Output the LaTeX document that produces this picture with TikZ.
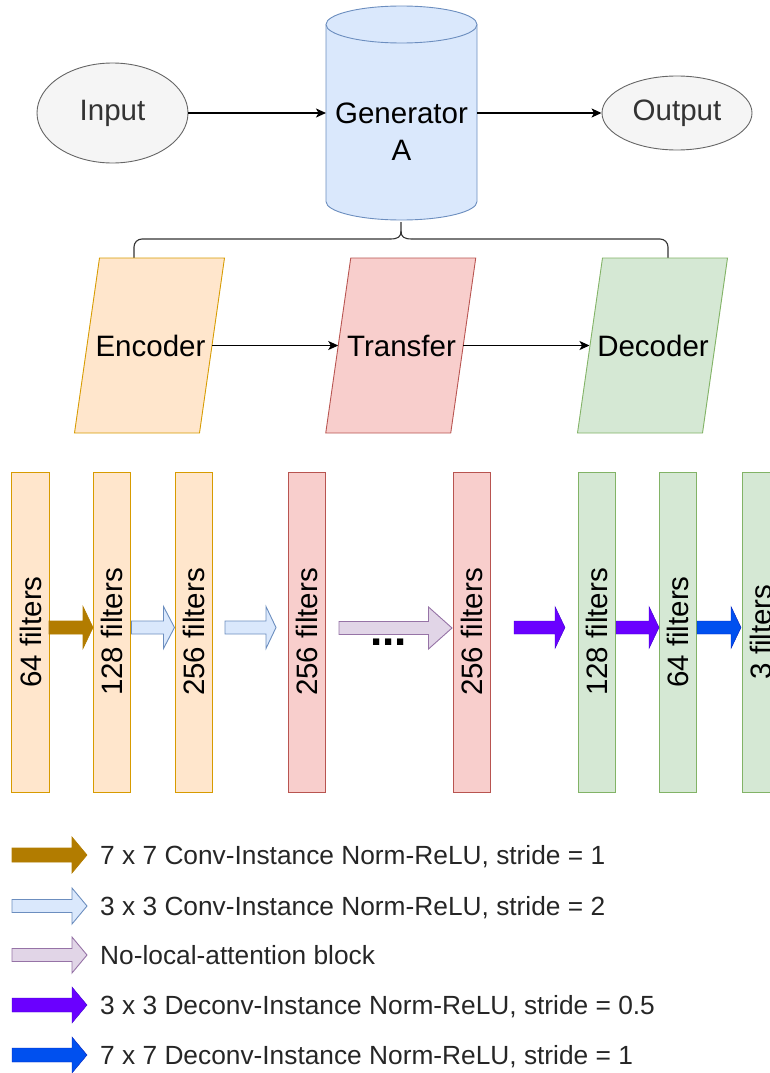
\documentclass[tikz,border=0pt]{standalone}
\usepackage{fontspec}
\setmainfont{Liberation Sans}
\usetikzlibrary{shapes.geometric,arrows.meta}
\definecolor{grayfill}{HTML}{F5F5F5}
\definecolor{graydraw}{HTML}{666666}
\definecolor{graytext}{HTML}{333333}
\definecolor{bluefill}{HTML}{DAE8FC}
\definecolor{bluedraw}{HTML}{6C8EBF}
\definecolor{orfill}{HTML}{FFE6CC}
\definecolor{ordraw}{HTML}{D79B00}
\definecolor{redfill}{HTML}{F8CECC}
\definecolor{reddraw}{HTML}{B85450}
\definecolor{grfill}{HTML}{D5E8D4}
\definecolor{grdraw}{HTML}{82B366}
\definecolor{lilfill}{HTML}{E1D5E7}
\definecolor{lildraw}{HTML}{9673A6}
\definecolor{brownA}{HTML}{B27C00}
\definecolor{violetA}{HTML}{6A00FF}
\definecolor{violetD}{HTML}{3700CC}
\definecolor{cobaltA}{HTML}{0050EF}
\definecolor{cobaltD}{HTML}{001DBC}
\newcommand{\blkarr}[7]{% style, x1, headstart, tip, y, halfshaft, halfhead
  \draw[#1] (#2,#5-#6) -- (#3,#5-#6) -- (#3,#5-#7) -- (#4,#5) -- (#3,#5+#7) -- (#3,#5+#6) -- (#2,#5+#6) -- cycle;}
\newcommand{\parashape}[2]{% style, center x  (y from 258 to 433)
  \draw[#1] (#2-75,433) -- (#2-50,258) -- (#2+75,258) -- (#2+50,433) -- cycle;}
\begin{document}
\begin{tikzpicture}[x=1pt,y=-1pt,
  bigtxt/.style={font=\fontsize{29.5}{36}\selectfont},
  conn/.style={line width=1.3pt, draw=black, -{Stealth[length=10pt,width=9pt,inset=2.5pt]}},
  ellnode/.style={ellipse, draw=graydraw, fill=grayfill, line width=0.9pt, inner sep=0pt, text=graytext, bigtxt},
  paratxt/.style={inner sep=0pt, bigtxt},
  bar/.style={rectangle, rotate=90, minimum width=320pt, minimum height=37.5pt, inner sep=0pt, line width=0.9pt,
    font=\fontsize{29.5}{36}\selectfont},
  legtxt/.style={anchor=base west, inner sep=0pt, font=\fontsize{26.3}{32}\selectfont, text=black!85},
  arrbrown/.style={fill=brownA, draw=brownA, line width=0.6pt},
  arrblue/.style={fill=bluefill, draw=bluedraw, line width=0.9pt},
  arrlil/.style={fill=lilfill, draw=lildraw, line width=0.9pt},
  arrviolet/.style={fill=violetA, draw=violetD, line width=0.4pt},
  arrcobalt/.style={fill=cobaltA, draw=cobaltD, line width=0.4pt},
  bracestyle/.style={line width=1.1pt, draw=black!80},
  encsty/.style={fill=orfill, draw=ordraw, line width=0.9pt},
  trasty/.style={fill=redfill, draw=reddraw, line width=0.9pt},
  decsty/.style={fill=grfill, draw=grdraw, line width=0.9pt}
]
\useasboundingbox (0,0) rectangle (770,1073);

% ---- top row ----
\node[ellnode, minimum width=151pt, minimum height=100pt] (inp) at (112.5,113) {Input};
\node[ellnode, minimum width=150pt, minimum height=74pt] (out) at (677,113) {Output};
% cylinder
\draw[fill=bluefill, draw=bluedraw, line width=0.9pt]
  (326,24.5) -- (326,201.5) arc[start angle=180, end angle=360, x radius=75.5pt, y radius=18.5pt] -- (477,24.5);
\draw[fill=bluefill, draw=bluedraw, line width=0.9pt] (401.5,24.5) ellipse[x radius=75.5pt, y radius=18.5pt];
\node[minimum width=151pt, minimum height=214pt, inner sep=0pt, align=center, bigtxt] (gen) at (401.5,132)
  {Generator\\[1pt]A};
\coordinate (genW) at (326,113);
\coordinate (genE) at (477,113);
\draw[conn] (inp) -- (genW);
\draw[conn] (genE) -- (out);

% ---- brace ----
\coordinate (btip) at (401,222);
\draw[bracestyle, rounded corners=8pt] (134,258) -- (134,239) -- (390,239);
\draw[bracestyle] (390,239) .. controls (398,239) and (401,237) .. (401,231) -- (btip);
\draw[bracestyle] (401,231) .. controls (401,237) and (404,239) .. (412,239);
\draw[bracestyle, rounded corners=8pt] (412,239) -- (668,239) -- (668,258);

% ---- parallelograms ----
\parashape{encsty}{149.5}
\parashape{trasty}{400.75}
\parashape{decsty}{652.5}
\node[paratxt] (enc) at (150.5,345.5) {Encoder};
\node[paratxt] (tra) at (401.5,345.5) {Transfer};
\node[paratxt] (dec) at (653,345.5) {Decoder};
\coordinate (encE) at (212,345.5);
\coordinate (traW) at (338.25,345.5);
\coordinate (traE) at (463.25,345.5);
\coordinate (decW) at (589.5,345.5);
\draw[conn] (encE) -- (traW);
\draw[conn] (traE) -- (decW);

% ---- filter bars ----
\node[bar, fill=orfill, draw=ordraw] (b1) at (30.5,632) {64 filters};
\node[bar, fill=orfill, draw=ordraw] (b2) at (112,632) {128 filters};
\node[bar, fill=orfill, draw=ordraw] (b3) at (194,632) {256 filters};
\node[bar, fill=redfill, draw=reddraw] (b4) at (307,632) {256 filters};
\node[bar, fill=redfill, draw=reddraw] (b5) at (472,632) {256 filters};
\node[bar, fill=grfill, draw=grdraw] (b6) at (597,632) {128 filters};
\node[bar, fill=grfill, draw=grdraw] (b7) at (678,632) {64 filters};
\node[bar, fill=grfill, draw=grdraw] (b8) at (761,632) {3 filters};

% ---- block arrows between bars ----
\blkarr{arrbrown}{49}{83}{93}{627.5}{6.5}{21}
\blkarr{arrblue}{131.5}{163.5}{174.5}{627.5}{6.5}{21}
\blkarr{arrblue}{225}{266}{276}{627.5}{6.5}{21}
\blkarr{arrlil}{339}{428.5}{452}{628}{6.5}{21}
\blkarr{arrviolet}{514}{555}{565}{627.5}{6.5}{21}
\blkarr{arrviolet}{616}{649}{659}{627.5}{6.5}{21}
\blkarr{arrcobalt}{697}{731}{741}{627.5}{6.5}{21}
\node[anchor=base, inner sep=0pt, font=\fontsize{44}{44}\selectfont\bfseries] (dots) at (388.5,645.5) {...};

% ---- legend ----
\blkarr{arrbrown}{12}{72}{87}{855}{7}{18}
\blkarr{arrblue}{12}{72}{87}{906}{6.5}{18}
\blkarr{arrlil}{12}{72}{87}{955}{6.5}{18}
\blkarr{arrviolet}{12}{72}{87}{1005}{7}{18}
\blkarr{arrcobalt}{12}{72}{87}{1055}{7}{18}
\node[legtxt] (l1) at (100,864.5) {7 x 7 Conv-Instance Norm-ReLU, stride = 1};
\node[legtxt] (l2) at (100,915.5) {3 x 3 Conv-Instance Norm-ReLU, stride = 2};
\node[legtxt] (l3) at (100,964.5) {No-local-attention block};
\node[legtxt] (l4) at (100,1014.5) {3 x 3 Deconv-Instance Norm-ReLU, stride = 0.5};
\node[legtxt] (l5) at (100,1064.5) {7 x 7 Deconv-Instance Norm-ReLU, stride = 1};
\end{tikzpicture}
\end{document}
